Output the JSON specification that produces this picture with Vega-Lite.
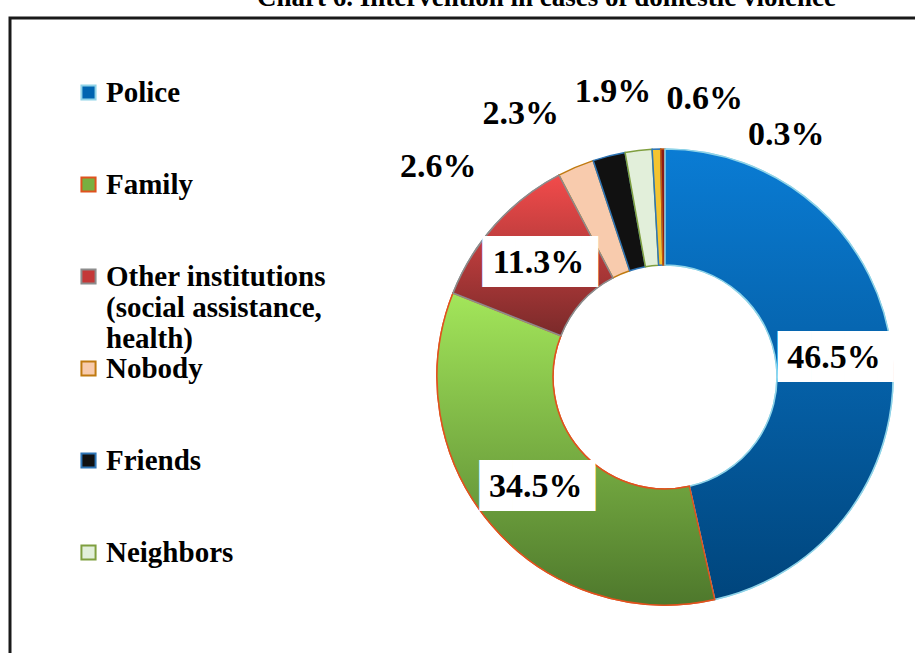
{
  "$schema": "https://vega.github.io/schema/vega-lite/v6.json",
  "width": 910,
  "height": 640,
  "autosize": "none",
  "padding": {"left": 10, "top": 18, "right": -5, "bottom": -5},
  "background": "white",
  "view": {"stroke": "#1a1a1a", "strokeWidth": 3, "fill": "white"},
  "config": {
    "font": "Liberation Serif, Times New Roman, Tinos, DejaVu Serif, serif"
  },
  "title": {
    "text": "Chart 6. Intervention in cases of domestic violence",
    "font": "Liberation Serif, Times New Roman, Tinos, DejaVu Serif, serif",
    "fontSize": 27,
    "fontWeight": "bold",
    "color": "black",
    "anchor": "start",
    "frame": "group",
    "dx": 247,
    "offset": -15,
    "baseline": "alphabetic"
  },
  "data": {
    "values": [
      {"category": "Police", "value": 0.465},
      {"category": "Family", "value": 0.345},
      {"category": "Other institutions (social assistance, health)", "value": 0.113},
      {"category": "Nobody", "value": 0.026},
      {"category": "Friends", "value": 0.023},
      {"category": "Neighbors", "value": 0.019},
      {"category": "Other", "value": 0.006},
      {"category": "No answer", "value": 0.003}
    ]
  },
  "layer": [
    {
      "layer": [
        {
          "mark": {"type": "arc", "x": 655, "y": 359, "radius": 228, "radius2": 112, "strokeWidth": 1.5},
          "encoding": {
            "theta": {"field": "value", "type": "quantitative", "stack": true},
            "order": {"field": "value", "sort": "descending"},
            "fill": {
              "field": "category",
              "type": "nominal",
              "scale": {
                "domain": ["Police", "Family", "Other institutions (social assistance, health)", "Nobody", "Friends", "Neighbors", "Other", "No answer"],
                "range": ["#0064B0", "#78B040", "#C43838", "#F8CBAD", "#111111", "#E2EFDA", "#F4C430", "#8B1A1A"]
              },
              "legend": {
                "orient": "none", "legendX": 64, "legendY": 60, "title": null,
                "values": ["Police", "Family", "Other institutions (social assistance, health)", "Nobody", "Friends", "Neighbors"],
                "symbolType": "square", "symbolSize": 200, "symbolStrokeWidth": 2,
                "labelFont": "Liberation Serif, Times New Roman, Tinos, DejaVu Serif, serif", "labelFontSize": 29, "labelFontWeight": "bold", "labelColor": "black",
                "labelLimit": 400, "labelOffset": 3, "rowPadding": -0.5, "gridAlign": "all", "padding": 0,
                "labelExpr": "datum.label == 'Other institutions (social assistance, health)' ? ['Other institutions', '(social assistance,', 'health)'] : datum.label"
              }
            },
            "stroke": {
              "field": "category",
              "type": "nominal",
              "scale": {
                "domain": ["Police", "Family", "Other institutions (social assistance, health)", "Nobody", "Friends", "Neighbors", "Other", "No answer"],
                "range": ["#8FD3E8", "#E0521E", "#8C8C8C", "#C07A10", "#2E75B6", "#7F9F3F", "#2E75B6", "#C05A10"]
              },
              "legend": {
                "orient": "none", "legendX": 64, "legendY": 60, "title": null,
                "values": ["Police", "Family", "Other institutions (social assistance, health)", "Nobody", "Friends", "Neighbors"],
                "symbolType": "square", "symbolSize": 200, "symbolStrokeWidth": 2,
                "labelFont": "Liberation Serif, Times New Roman, Tinos, DejaVu Serif, serif", "labelFontSize": 29, "labelFontWeight": "bold", "labelColor": "black",
                "labelLimit": 400, "labelOffset": 3, "rowPadding": -0.5, "gridAlign": "all", "padding": 0,
                "labelExpr": "datum.label == 'Other institutions (social assistance, health)' ? ['Other institutions', '(social assistance,', 'health)'] : datum.label"
              }
            }
          }
        },
        {
          "mark": {"type": "arc", "x": 655, "y": 359, "radius": 228, "radius2": 112, "strokeWidth": 1.5, "stroke": "#8FD3E8",
            "fill": {"gradient": "linear", "x1": 0, "y1": 0, "x2": 0, "y2": 1, "stops": [{"offset": 0, "color": "#0A7CD4"}, {"offset": 1, "color": "#00457C"}]}},
          "encoding": {
            "theta": {"field": "value", "type": "quantitative", "stack": true},
            "order": {"field": "value", "sort": "descending"},
            "fillOpacity": {"condition": {"test": "datum.category === 'Police'", "value": 1}, "value": 0},
            "strokeOpacity": {"condition": {"test": "datum.category === 'Police'", "value": 1}, "value": 0}
          }
        },
        {
          "mark": {"type": "arc", "x": 655, "y": 359, "radius": 228, "radius2": 112, "strokeWidth": 1.5, "stroke": "#E0521E",
            "fill": {"gradient": "linear", "x1": 0, "y1": 0, "x2": 0, "y2": 1, "stops": [{"offset": 0, "color": "#A3E65A"}, {"offset": 1, "color": "#4E782C"}]}},
          "encoding": {
            "theta": {"field": "value", "type": "quantitative", "stack": true},
            "order": {"field": "value", "sort": "descending"},
            "fillOpacity": {"condition": {"test": "datum.category === 'Family'", "value": 1}, "value": 0},
            "strokeOpacity": {"condition": {"test": "datum.category === 'Family'", "value": 1}, "value": 0}
          }
        },
        {
          "mark": {"type": "arc", "x": 655, "y": 359, "radius": 228, "radius2": 112, "strokeWidth": 1.5, "stroke": "#8C8C8C",
            "fill": {"gradient": "linear", "x1": 0, "y1": 0, "x2": 0, "y2": 1, "stops": [{"offset": 0, "color": "#F24B4B"}, {"offset": 1, "color": "#7A2A2A"}]}},
          "encoding": {
            "theta": {"field": "value", "type": "quantitative", "stack": true},
            "order": {"field": "value", "sort": "descending"},
            "fillOpacity": {"condition": {"test": "datum.category === 'Other institutions (social assistance, health)'", "value": 1}, "value": 0},
            "strokeOpacity": {"condition": {"test": "datum.category === 'Other institutions (social assistance, health)'", "value": 1}, "value": 0}
          }
        },
        {
          "transform": [{"filter": "datum.value > 0.05"}],
          "mark": {"type": "text", "x": 655, "y": 359, "radius": 170, "font": "DejaVu Sans", "fontSize": 43, "fill": "white", "text": "███▌", "dx": 10},
          "encoding": {
            "theta": {"field": "value", "type": "quantitative", "stack": true},
            "order": {"field": "value", "sort": "descending"}
          }
        },
        {
          "transform": [{"filter": "datum.value > 0.05"}],
          "mark": {"type": "text", "x": 655, "y": 359, "radius": 170, "font": "Liberation Serif, Times New Roman, Tinos, DejaVu Serif, serif", "fontWeight": "bold", "fontSize": 34, "fill": "black"},
          "encoding": {
            "theta": {"field": "value", "type": "quantitative", "stack": true},
            "order": {"field": "value", "sort": "descending"},
            "text": {"field": "value", "type": "quantitative", "format": ".1%"}
          }
        }
      ]
    },
    {
      "transform": [{"filter": "datum.value < 0.05"}],
      "mark": {"type": "text", "x": 655, "y": 359, "font": "Liberation Serif, Times New Roman, Tinos, DejaVu Serif, serif", "fontWeight": "bold", "fontSize": 34, "fill": "black"},
      "encoding": {
        "theta": {"field": "category", "type": "nominal", "sort": null, "scale": {"type": "point", "range": [5.459, 6.747], "padding": 0}},
        "radius": {"field": "category", "type": "nominal", "sort": null, "scale": {"type": "point", "range": [309, 271], "padding": 0}},
        "text": {"field": "value", "type": "quantitative", "format": ".1%"}
      }
    }
  ],
  "resolve": {"scale": {"theta": "independent", "radius": "independent"}}
}
